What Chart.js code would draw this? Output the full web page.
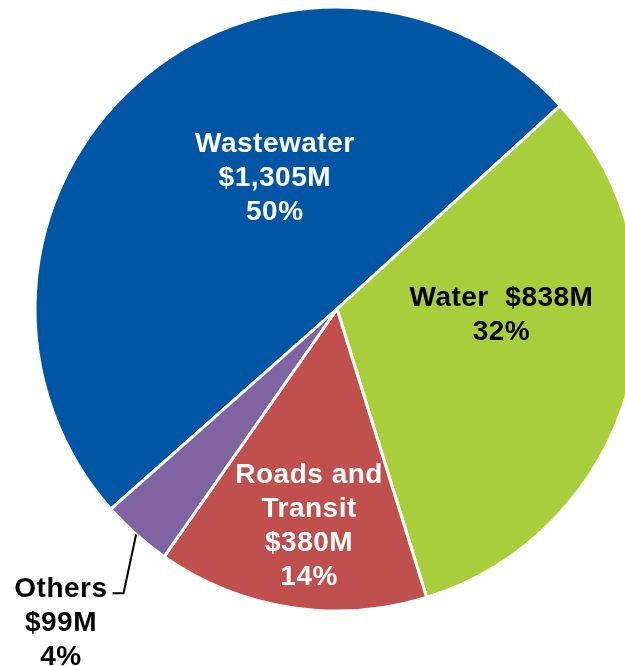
<!DOCTYPE html>
<html>
<head>
<meta charset="utf-8">
<script src="https://cdn.jsdelivr.net/npm/chart.js@4/dist/chart.umd.min.js"></script>
<style>
  html, body { margin: 0; padding: 0; background: #ffffff; overflow: hidden; }
  #wrap { position: relative; width: 674px; height: 666px; }
</style>
</head>
<body>
<div id="wrap"><canvas id="pie" width="674" height="666"></canvas></div>
<script>
// Capital spending by program ($ millions)
const categories = ["Wastewater", "Water", "Roads and\nTransit", "Others"];
const values = [1305, 838, 380, 99];
const sliceColors = ["#0056A4", "#A9CE3B", "#C0504D", "#8064A2"];

// Label placement: angle (degrees, clockwise from 3 o'clock) and distance as a share of the radius
const labelAngles = [244.6, 2.2, 97.3, 131.3];
const labelRadii = [0.48, 0.545, 0.727, 1.385];
const labelColors = ["#ffffff", "#000000", "#ffffff", "#000000"];

const total = values.reduce((a, b) => a + b, 0);
const money = v => "$" + v.toLocaleString("en-US") + "M";
const pct = v => Math.round(v / total * 100) + "%";

function labelLines(i) {
  const name = categories[i].split("\n");
  if (i === 1) return [name[0] + "  " + money(values[i]), pct(values[i])];
  return [...name, money(values[i]), pct(values[i])];
}

const sliceLabels = {
  id: "sliceLabels",
  afterDatasetsDraw(chart) {
    const ctx = chart.ctx;
    const arcs = chart.getDatasetMeta(0).data;
    const lineH = 34;
    ctx.save();
    ctx.font = "bold 28px 'Liberation Sans', Arial, sans-serif";
    ctx.letterSpacing = "0.5px";
    ctx.textAlign = "center";
    ctx.textBaseline = "middle";
    arcs.forEach((arc, i) => {
      const R = arc.outerRadius;
      const a = labelAngles[i] * Math.PI / 180;
      const cx = arc.x + Math.cos(a) * labelRadii[i] * R;
      const cy = arc.y + Math.sin(a) * labelRadii[i] * R;
      const lines = labelLines(i);
      const top = cy - (lines.length - 1) * lineH / 2;
      ctx.fillStyle = labelColors[i];
      lines.forEach((t, k) => ctx.fillText(t, cx, top + k * lineH));
      if (labelRadii[i] > 1) {
        // leader from the outside label back to its slice
        const mid = (arc.startAngle + arc.endAngle) / 2;
        const px = arc.x + Math.cos(mid) * R;
        const py = arc.y + Math.sin(mid) * R;
        const w = ctx.measureText(lines[0]).width;
        const sx = cx + w / 2 + 5;
        const sy = top + 4;
        ctx.beginPath();
        ctx.moveTo(sx, sy);
        ctx.lineTo(sx + 11, sy);
        ctx.lineTo(px, py);
        ctx.strokeStyle = "#000000";
        ctx.lineWidth = 2;
        ctx.stroke();
      }
    });
    ctx.restore();
  }
};

new Chart(document.getElementById("pie"), {
  type: "pie",
  data: {
    labels: categories,
    datasets: [{
      data: values,
      backgroundColor: sliceColors,
      borderColor: "#ffffff",
      borderWidth: 3
    }]
  },
  options: {
    responsive: false,
    animation: false,
    devicePixelRatio: 1,
    rotation: 228.5,
    radius: 302,
    layout: { padding: { top: 0, bottom: 48, left: 0, right: 0 } },
    plugins: { legend: { display: false }, tooltip: { enabled: false } }
  },
  plugins: [sliceLabels]
});
</script>
</body>
</html>
